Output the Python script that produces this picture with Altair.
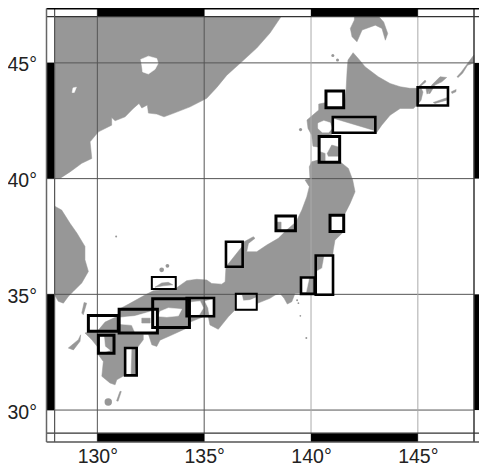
import altair as alt
import pandas as pd

FONT = "Liberation Sans"
LAND = "#979797"
LON_STOPS = [127.62, 146.5, 148, 148.61]
LON_RANGE = [0, 403.4, 427.5, 432.5]
LON_MIN, LON_MAX = LON_STOPS[0], LON_STOPS[-1]
LAT_DOMAIN = [28.62, 47.35]
LON_TICKS = [130, 135, 140, 145]
LAT_TICKS = [30, 35, 40, 45]

MAINLAND = [(138.6,47),(138.08,46.29),(137.46,45.64),(136.68,44.98),(136.06,44.47),(135.59,43.94),(135.12,43.47),
 (134.34,43.10),(133.56,42.82),(133.12,42.67),(132.78,42.79),(132.39,42.83),(132.34,43.18),(132.08,43.05),(131.95,43.25),
 (131.68,43.03),(131.30,42.67),(130.83,42.50),(130.67,42.64),(130.67,42.31),(130.05,42.02),(129.66,41.59),(129.74,40.87),
 (129.27,40.66),(128.72,40.29),(128.25,40.01),(128,40),(128,47)]
KOREA = [(128,38.81),(128.33,38.64),(128.72,38.07),(129.04,37.65),(129.42,37.07),(129.42,36.49),(129.58,35.99),(129.27,35.49),
 (128.88,35.13),(128.64,34.91),(128.41,34.62),(128.17,34.70),(128,34.98)]
TSUSHIMA = [(129.27,34.19),(129.38,34.65),(129.50,34.62),(129.34,34.12)]
GOTO = [(128.64,32.68),(129.11,33.04),(129.22,33.25),(129.19,32.97),(128.88,32.60)]
HONSHU_SHIKOKU_KYUSHU = [(129.42,33.33),(130.05,33.46),(130.36,33.80),(130.97,34.06),(131.02,34.36),(131.53,34.61),(132.23,34.97),
 (132.62,35.15),(133.68,35.26),(134.18,35.59),(134.65,35.65),(135.12,35.62),(135.35,35.47),(135.82,35.44),(135.98,35.54),
 (136.02,36.19),(136.83,37.13),(136.87,37.27),(137.30,37.49),(137.38,37.42),(137.07,37.20),(136.99,36.84),(137.46,36.84),
 (137.93,37.13),(138.47,37.42),(138.86,37.78),(139.30,38.13),(139.57,38.64),(139.80,39.21),(139.92,39.65),(139.72,39.94),
 (139.95,40.01),(139.92,40.51),(140.03,40.73),(140.33,40.80),(140.89,40.71),(141.36,40.73),(141.75,40.44),(141.95,39.94),
 (142.06,39.43),(141.83,38.93),(141.55,38.42),(141.55,37.73),(141.12,37.34),(141.04,36.91),(141.02,36.70),(141.02,35.01),
 (140.19,35.01),(139.49,35.05),(139.25,35.04),(139.10,34.68),(138.89,34.58),(138.74,34.83),(138.55,35.04),(138.32,34.97),
 (138.08,34.83),(137.49,34.61),(137.47,34.32),(136.44,34.32),(136.13,34.03),(135.66,33.49),(135.27,33.68),(135.19,34.05),
 (135.04,34.06),(134.34,33.80),(134.18,33.54),(133.48,33.24),(132.93,33.02),(132.78,32.75),(132.55,32.82),(132.39,33.28),
 (132.15,33.28),(132.15,33.04),(131.89,32.72),(131.81,32.17),(131.76,31.51),(131.30,31.51),(130.91,31.31),(130.83,31.09),
 (130.59,31.17),(130.21,31.46),(130.28,32.10),(130.05,32.39),(130.05,32.68),(129.74,33.04)]
HOKKAIDO = [(141.97,45.44),(142.21,45.19),(142.53,44.83),(143.15,44.40),(143.70,44.11),(144.17,43.97),(144.63,43.90),(144.98,43.90),
 (145.15,43.91),(145.24,43.74),(145.15,43.39),(145.01,43.22),(144.79,43.03),(144.17,43.03),(143.70,42.74),(143.31,42.31),
 (143.04,41.95),(143.0,42.07),(141.04,42.61),(140.98,41.92),(140.38,41.79),(140.38,41.36),(140.09,41.40),(140.03,41.88),
 (139.86,42.17),(139.81,42.53),(140.36,42.96),(140.36,43.22),(140.67,43.28),(140.70,43.05),(141.55,43.05),(141.64,43.82),
 (141.69,44.69),(141.73,45.12)]
SAKHALIN = [(141.84,46.49),(142.03,46.85),(142.03,47),(143.17,47),(143.40,46.77),(143.59,46.27),(143.48,45.98),(143.32,46.49),
 (143.01,46.63),(142.39,46.42),(142.15,45.91),(141.92,46.13)]
KUNASHIRI = [(144.95,43.90),(145.34,44.26),(145.38,44.18),(145.10,43.97)]
ETOROFU = [(145.49,43.68),(145.65,44.04),(146.04,44.40),(146.35,44.37),(146.12,44.18),(145.80,44.04),(145.57,43.68)]
URUP = [(146.94,44.40),(147.21,44.61),(147.68,45.05),(147.99,45.34),(147.99,45.00),(147.60,44.90),(147.29,44.55),(147.01,44.37)]
SHIKOTAN = [(146.59,43.75),(146.89,43.85),(146.87,43.75),(146.63,43.68)]
HABOMAI = [(145.72,43.29),(146.35,43.49),(146.35,43.39),(145.80,43.25)]
NEMURO_BIT = [(145.38,43.90),(145.60,43.90),(145.43,43.65)]
TANEGASHIMA = [(131.06,30.81),(131.12,30.80),(130.97,30.38),(130.90,30.40)]

KHANKA = [(132.03,45.15),(132.39,45.29),(132.78,45.19),(132.85,44.98),(132.70,44.72),(132.39,44.52),(132.12,44.61),(132.08,44.90)]
SPECK = [(128.86,43.92),(129.02,43.95),(128.92,43.72),(128.82,43.72)]
UCHIURA = [(140.33,42.39),(140.60,42.50),(140.90,42.41),(140.98,42.17),(140.83,42.00),(140.52,42.00),(140.33,42.17)]
SENDAI_BOX = [(140.89,38.42),(141.55,38.42),(141.55,37.73),(140.89,37.73)]
KASHIMA = [(140.62,36.64),(140.98,36.64),(140.98,35.02),(140.25,35.02),(140.25,35.99),(140.52,36.13)]
SAGAMI = [(139.58,35.69),(139.91,35.69),(139.77,35.10),(139.58,35.10)]
ISE = [(136.49,35.00),(136.76,34.97),(136.83,34.72),(137.15,34.75),(137.46,34.87),(137.46,34.35),(136.49,34.35)]
OSAKA_W = [(134.26,34.65),(134.81,34.70),(134.96,34.41),(134.77,34.12),(134.26,34.07)]
OSAKA_E = [(135.04,34.70),(135.40,34.80),(135.40,34.12),(135.24,34.12),(135.19,34.41)]
SETO_E = [(132.93,34.26),(133.32,34.41),(133.95,34.36),(133.79,34.07),(133.25,34.02),(132.85,34.05)]
SETO_W = [(131.06,34.00),(131.76,34.06),(132.75,34.32),(132.75,33.38),(131.76,33.36),(131.61,33.67),(131.06,33.72)]
HYUGA = [(131.34,32.64),(131.59,32.64),(131.56,31.52),(131.34,31.52)]
ARIAKE = [(130.09,33.18),(130.31,33.18),(130.36,32.75),(130.59,32.58),(130.31,32.49),(130.09,32.49)]

OKI_BIT = [(132.70,35.31),(133.01,35.49),(133.32,35.52),(133.53,35.41),(133.09,35.37)]
SADO_BIT = [(138.36,38.12),(138.60,38.12),(138.60,37.78),(138.36,37.78)]
MUTSU_W = [(140.42,41.16),(140.66,41.09),(140.66,40.77),(140.42,40.77)]
MUTSU_E = [(140.76,41.09),(140.97,41.45),(141.28,41.37),(141.28,40.97),(140.81,40.97)]
SETO_BIT = [(132.08,33.97),(132.47,33.97),(132.47,33.76),(132.08,33.76)]

DOT_LON = [130.51,133.01,133.28,130.88,139.35,139.41,139.50,139.78,139.51,141.02,141.24]
DOT_LAT = [30.35,36.06,36.23,37.50,34.74,34.62,34.07,33.11,42.12,45.32,45.12]
DOT_SIZE = [55,22,14,4,4,3,3,4,10,9,9]

BOX_HEAVY = [(140.70,141.53,43.06,43.79),(140.38,141.34,40.71,41.82),(138.36,139.27,37.75,38.38),(140.89,141.53,37.72,38.42),
 (132.59,134.31,33.57,34.81),(131.02,132.81,33.33,34.36),(129.58,130.98,33.40,34.09),(130.05,130.78,32.45,33.23)]
BOX_MEDIUM = [(141.02,143.01,41.98,42.66),(144.99,146.41,43.16,43.94),(136.02,136.80,36.19,37.27),(140.22,141.03,34.98,36.68),
 (139.53,140.17,35.02,35.73),(134.18,135.46,34.05,34.84),(131.30,131.84,31.50,32.68)]
BOX_LIGHT = [(136.48,137.46,34.33,35.02),(132.55,133.67,35.23,35.75)]

BAND_LON = [(130,135),(140,145)]
BAND_LAT = [(30,35),(40,45)]


def polygons(groups):
    rows = []
    for g, pts in enumerate(groups):
        for i, (lon, lat) in enumerate(pts):
            rows.append({"g": g, "i": i, "lon": lon, "lat": lat})
    return pd.DataFrame(rows)


X = alt.X("lon:Q", scale=alt.Scale(domain=LON_STOPS, range=LON_RANGE, nice=False, zero=False), title=None,
          axis=alt.Axis(values=LON_TICKS, grid=False, domain=False, ticks=False, labelFont=FONT, labelFontSize=19.5,
                        labelColor="#222222", labelPadding=5, labelExpr="datum.value + '°'", labelFlush=False))
Y = alt.Y("lat:Q", scale=alt.Scale(domain=LAT_DOMAIN, nice=False, zero=False), title=None,
          axis=alt.Axis(values=LAT_TICKS, grid=False, domain=False, ticks=False, labelFont=FONT, labelFontSize=19.5,
                        labelColor="#222222", labelPadding=10, labelOffset=2, labelExpr="datum.value + '°'", labelFlush=False))


def fill_layer(groups, color):
    return alt.Chart(polygons(groups)).mark_line(
        interpolate="linear-closed", stroke=color, strokeWidth=0.5, fill=color
    ).encode(x=X, y=Y, detail="g:N", order="i:Q")


def box_layer(boxes, width):
    df = pd.DataFrame(boxes, columns=["lon", "lon2", "lat", "lat2"])
    return alt.Chart(df).mark_rect(fillOpacity=0, stroke="black", strokeWidth=width).encode(
        x=X, x2="lon2:Q", y=Y, y2="lat2:Q"
    )


def hline(lats, lon0, lon1, color, width):
    df = pd.DataFrame({"lat": lats, "lon": [lon0] * len(lats), "lon2": [lon1] * len(lats)})
    return alt.Chart(df).mark_rule(color=color, strokeWidth=width).encode(x=X, x2="lon2:Q", y=Y)


def vline(lons, lat0, lat1, color, width):
    df = pd.DataFrame({"lon": lons, "lat": [lat0] * len(lons), "lat2": [lat1] * len(lons)})
    return alt.Chart(df).mark_rule(color=color, strokeWidth=width).encode(x=X, y=Y, y2="lat2:Q")


def black_bands(rows):
    df = pd.DataFrame(rows, columns=["lon", "lon2", "lat", "lat2"])
    return alt.Chart(df).mark_rect(color="black").encode(x=X, x2="lon2:Q", y=Y, y2="lat2:Q")


dots = alt.Chart(pd.DataFrame({"lon": DOT_LON, "lat": DOT_LAT, "s": DOT_SIZE})).mark_circle(
    color=LAND, opacity=1
).encode(x=X, y=Y, size=alt.Size("s:Q", scale=None, legend=None))

bands = []
for a, b in BAND_LON:
    bands += [(a, b, 47, LAT_DOMAIN[1]), (a, b, LAT_DOMAIN[0], 29)]
for a, b in BAND_LAT:
    bands += [(LON_MIN, 128, a, b), (148, LON_MAX, a, b)]

chart = alt.layer(
    fill_layer([MAINLAND, KOREA, TSUSHIMA, GOTO, HONSHU_SHIKOKU_KYUSHU, HOKKAIDO, SAKHALIN, KUNASHIRI, ETOROFU, URUP,
                SHIKOTAN, HABOMAI, NEMURO_BIT, TANEGASHIMA], LAND),
    dots,
    fill_layer([KHANKA, SPECK, UCHIURA, SENDAI_BOX, KASHIMA, SAGAMI, ISE, OSAKA_W, OSAKA_E, SETO_E, SETO_W, HYUGA, ARIAKE], "white"),
    fill_layer([OKI_BIT, SADO_BIT, MUTSU_W, MUTSU_E, SETO_BIT], LAND),
    hline(LAT_TICKS, LON_MIN, 148, "#555555", 1),
    vline([130, 135], LAT_DOMAIN[0], LAT_DOMAIN[1], "#555555", 1),
    vline([140, 145], LAT_DOMAIN[0], LAT_DOMAIN[1], "#aaaaaa", 1),
    box_layer(BOX_LIGHT, 2),
    box_layer(BOX_MEDIUM, 2.6),
    box_layer(BOX_HEAVY, 3),
    black_bands(bands),
    hline([47, 29], LON_MIN, LON_MAX, "#333333", 1.2),
    vline([128], LAT_DOMAIN[0], LAT_DOMAIN[1], "#555555", 1.2),
    vline([148], LAT_DOMAIN[0], LAT_DOMAIN[1], "#333333", 1.5),
    hline([LAT_DOMAIN[1]], LON_MIN, LON_MAX, "black", 2),
    hline([LAT_DOMAIN[0]], LON_MIN, LON_MAX, "#555555", 1.5),
    vline([LON_MIN], LAT_DOMAIN[0], LAT_DOMAIN[1], "#666666", 1.5),
).properties(
    width=432.5,
    height=433.5,
    autosize=alt.AutoSizeParams(type="none"),
    padding={"left": 38.5, "top": 0.5, "right": 0, "bottom": 23},
).configure_view(stroke=None)

chart.save("out.html", embed_options={"renderer": "svg", "actions": False})
